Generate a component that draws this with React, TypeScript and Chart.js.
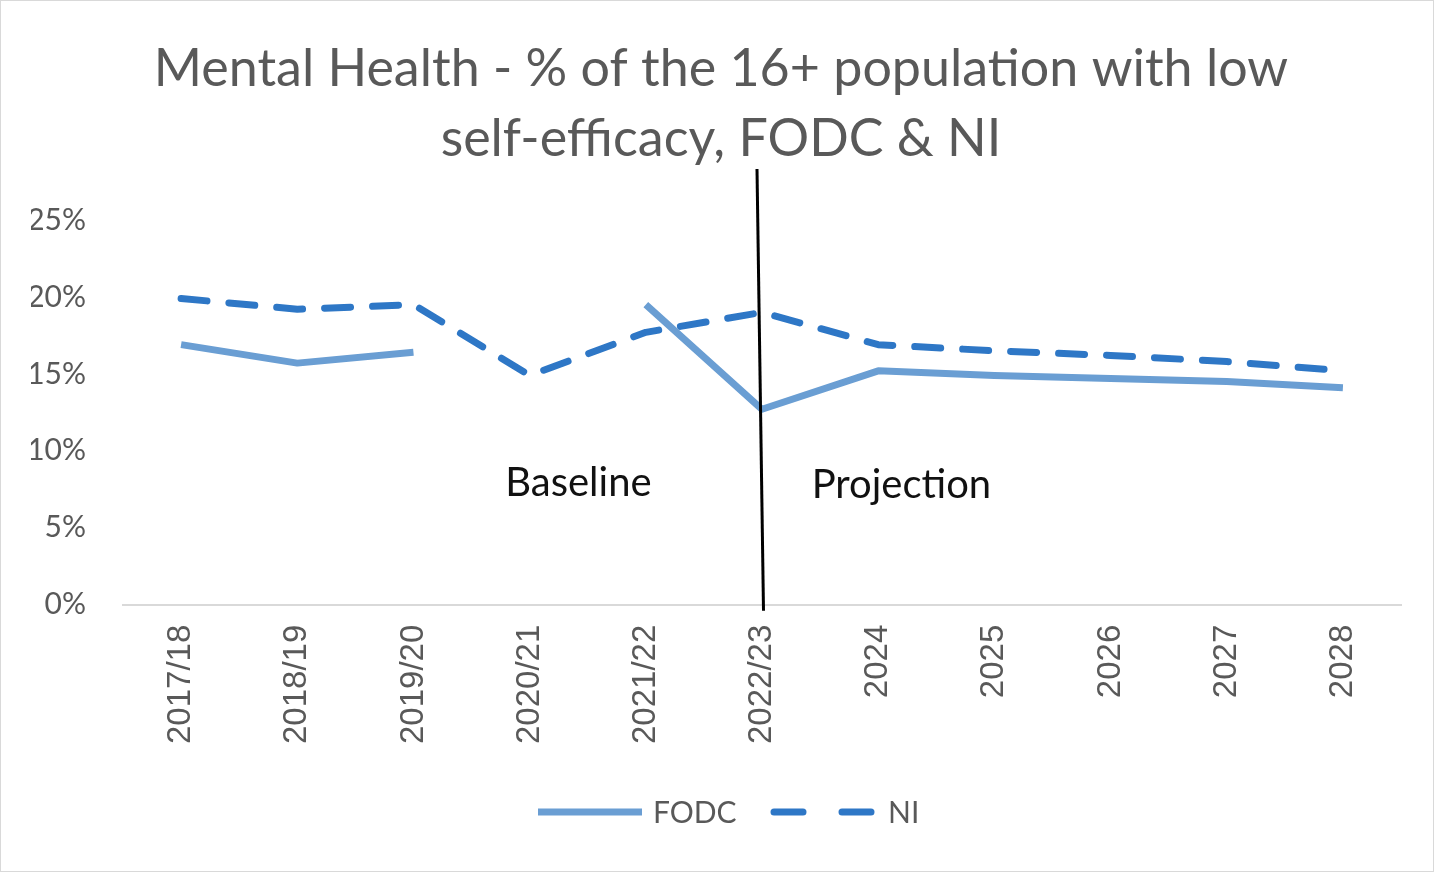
import React, { useEffect, useRef } from 'react';
import { Chart, registerables } from 'chart.js';

Chart.register(...registerables);

const categories = ['2017/18', '2018/19', '2019/20', '2020/21', '2021/22', '2022/23', '2024', '2025', '2026', '2027', '2028'];
const fodcValues: (number | null)[] = [16.9, 15.7, 16.4, null, 19.5, 12.7, 15.2, 14.9, 14.7, 14.5, 14.1];
const niValues: (number | null)[] = [19.9, 19.2, 19.5, 14.9, 17.7, 19.0, 16.9, 16.5, 16.2, 15.8, 15.2];
const yTickValues = [0, 5, 10, 15, 20, 25];
const titleLines = ['Mental Health - % of the 16+ population with low', 'self-efficacy, FODC & NI'];
const seriesNames = ['FODC', 'NI'];
const dividerCategory = '2022/23';
const phaseLabels = ['Baseline', 'Projection'];

const FODC_COLOR = '#6A9ED3';
const NI_COLOR = '#2E77C6';
const TEXT_GRAY = '#595959';
const MAIN_FONT = 'Lato, "Open Sans", sans-serif';

const overlayPlugin = {
  id: 'overlay',
  afterDraw(chart: any) {
    const ctx = chart.ctx;
    const x = chart.scales.x;
    const y = chart.scales.y;
    ctx.save();

    // title
    ctx.fillStyle = TEXT_GRAY;
    ctx.font = '52px ' + MAIN_FONT;
    ctx.textAlign = 'center';
    ctx.textBaseline = 'middle';
    titleLines.forEach((line, i) => ctx.fillText(line, 720, 68 + i * 70));

    // divider line
    const divIdx = categories.indexOf(dividerCategory);
    const px = x.getPixelForValue(divIdx);
    ctx.strokeStyle = '#000000';
    ctx.lineWidth = 3;
    ctx.setLineDash([]);
    ctx.beginPath();
    ctx.moveTo(px - 5, 168);
    ctx.lineTo(px + 1.5, y.getPixelForValue(0) + 6);
    ctx.stroke();

    // phase labels
    ctx.fillStyle = '#111111';
    ctx.font = '40px ' + MAIN_FONT;
    ctx.textAlign = 'center';
    ctx.textBaseline = 'middle';
    const step = x.getPixelForValue(1) - x.getPixelForValue(0);
    const baseX = x.getPixelForValue(3) + step * 0.42;
    const projX = x.getPixelForValue(6) + step * 0.2;
    ctx.fillText(phaseLabels[0], baseX, y.getPixelForValue(7.9));
    ctx.fillText(phaseLabels[1], projX, y.getPixelForValue(7.75));

    // legend
    const ly = 811;
    ctx.lineCap = 'butt';
    ctx.strokeStyle = FODC_COLOR;
    ctx.lineWidth = 7;
    ctx.beginPath();
    ctx.moveTo(537, ly);
    ctx.lineTo(641, ly);
    ctx.stroke();
    ctx.strokeStyle = NI_COLOR;
    ctx.lineCap = 'round';
    ctx.beginPath();
    ctx.moveTo(773, ly);
    ctx.lineTo(802, ly);
    ctx.moveTo(841, ly);
    ctx.lineTo(870, ly);
    ctx.stroke();
    ctx.fillStyle = TEXT_GRAY;
    ctx.font = '30px ' + MAIN_FONT;
    ctx.textAlign = 'left';
    ctx.fillText(seriesNames[0], 652, ly + 1);
    ctx.fillText(seriesNames[1], 887, ly + 1);
    ctx.restore();
  },
};

export default function App() {
  const canvasRef = useRef<HTMLCanvasElement | null>(null);

  useEffect(() => {
    if (!canvasRef.current) return;
    const chart = new Chart(canvasRef.current, {
      type: 'line',
      data: {
        labels: categories,
        datasets: [
          {
            label: seriesNames[0],
            data: fodcValues,
            borderColor: FODC_COLOR,
            backgroundColor: FODC_COLOR,
            borderWidth: 7,
            pointRadius: 0,
            spanGaps: false,
            borderJoinStyle: 'round',
            borderCapStyle: 'butt',
            tension: 0,
          },
          {
            label: seriesNames[1],
            data: niValues,
            borderColor: NI_COLOR,
            backgroundColor: NI_COLOR,
            borderWidth: 7,
            borderDash: [26, 22],
            pointRadius: 0,
            borderJoinStyle: 'round',
            borderCapStyle: 'round',
            tension: 0,
          },
        ],
      },
      options: {
        responsive: false,
        animation: false,
        layout: { padding: { left: 30, right: 32, top: 219, bottom: 107 } },
        plugins: {
          legend: { display: false },
          tooltip: { enabled: false },
          title: { display: false },
        },
        scales: {
          x: {
            offset: true,
            grid: { display: false, drawTicks: false, offset: true },
            border: { display: true, color: '#D9D9D9', width: 2 },
            ticks: {
              color: TEXT_GRAY,
              font: { family: '"Liberation Sans", Arial, sans-serif', size: 33 },
              minRotation: 90,
              maxRotation: 90,
              padding: 20,
              autoSkip: false,
            },
          },
          y: {
            min: 0,
            max: 25,
            afterBuildTicks: (axis: any) => {
              axis.ticks = yTickValues.map((v) => ({ value: v }));
            },
            afterFit: (axis: any) => {
              axis.width = 92;
            },
            grid: { display: false, drawTicks: false },
            border: { display: false },
            ticks: {
              color: TEXT_GRAY,
              font: { family: MAIN_FONT, size: 30 },
              padding: 37,
              callback: (v: any) => v + '%',
            },
          },
        },
      },
      plugins: [overlayPlugin],
    });
    return () => chart.destroy();
  }, []);

  return (
    <div
      style={{
        position: 'fixed',
        left: 0,
        top: 0,
        width: 1434,
        height: 872,
        background: '#ffffff',
        border: '1px solid #D9D9D9',
        boxSizing: 'border-box',
        overflow: 'hidden',
      }}
    >
      <canvas ref={canvasRef} width={1432} height={870} style={{ display: 'block' }} />
    </div>
  );
}
